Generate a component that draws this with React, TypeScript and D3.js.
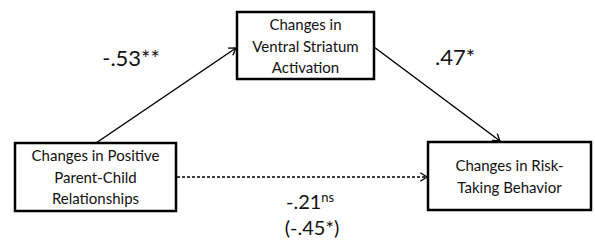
import React from 'react';
import * as d3 from 'd3';

// node labels (one line per entry)
const predictorLines = ['Changes in Positive', 'Parent-Child', 'Relationships'];
const mediatorLines = ['Changes in', 'Ventral Striatum', 'Activation'];
const outcomeLines = ['Changes in Risk-', 'Taking Behavior'];

// path coefficients
const pathA = '-.53**';
const pathB = '.47*';
const pathDirect = '-.21';
const pathDirectSig = 'ns';
const pathTotal = '(-.45*)';

const W = 595;
const H = 243;
const FONT = 'Lato, "Open Sans", sans-serif';

type Box = { x: number; y: number; w: number; h: number; lines: string[]; firstBase: number };

const boxes: Box[] = [
  { x: 15, y: 143, w: 161, h: 68, lines: predictorLines, firstBase: 161 },
  { x: 237, y: 12, w: 137, h: 67, lines: mediatorLines, firstBase: 30 },
  { x: 428, y: 142, w: 163, h: 68, lines: outcomeLines, firstBase: 171 },
];

const line = d3.line<[number, number]>();

const Arrow = ({ from, to, dashed }: { from: [number, number]; to: [number, number]; dashed?: boolean }) => {
  const ang = Math.atan2(to[1] - from[1], to[0] - from[0]);
  const len = 8;
  const spread = Math.PI / 5.5;
  const h1: [number, number] = [to[0] - len * Math.cos(ang - spread), to[1] - len * Math.sin(ang - spread)];
  const h2: [number, number] = [to[0] - len * Math.cos(ang + spread), to[1] - len * Math.sin(ang + spread)];
  return (
    <g stroke="#000" fill="none">
      <path d={line([from, to]) || ''} strokeWidth={1.5} strokeDasharray={dashed ? '3,2' : undefined} />
      <path d={line([h1, to, h2]) || ''} strokeWidth={1.3} />
    </g>
  );
};

export default function App() {
  const lineGap = 21.5;
  return (
    <svg width={W} height={H} style={{ position: 'absolute', left: 0, top: 0, background: '#fff' }}>
      <Arrow from={[96, 143]} to={[236, 48]} />
      <Arrow from={[374, 47]} to={[500, 141]} />
      <Arrow from={[177, 177]} to={[427, 177]} dashed />

      {boxes.map((b, i) => (
        <g key={i}>
          <rect x={b.x} y={b.y} width={b.w} height={b.h} fill="#fff" stroke="#000" strokeWidth={2.5} />
          {b.lines.map((t, j) => (
            <text
              key={j}
              x={b.x + b.w / 2}
              y={b.firstBase + j * lineGap}
              textAnchor="middle"
              fontFamily={FONT}
              fontSize={15}
              fill="#111"
            >
              {t}
            </text>
          ))}
        </g>
      ))}

      <text x={131} y={66} textAnchor="middle" fontFamily={FONT} fontSize={22} fill="#111">{pathA}</text>
      <text x={455} y={65} textAnchor="middle" fontFamily={FONT} fontSize={22} fill="#111">{pathB}</text>
      <text x={286} y={209} fontFamily={FONT} fontSize={20} fill="#111">
        {pathDirect}
        <tspan fontSize={13} dy={-7}>{pathDirectSig}</tspan>
      </text>
      <text x={312} y={235} textAnchor="middle" fontFamily={FONT} fontSize={20} fill="#111">{pathTotal}</text>
    </svg>
  );
}
